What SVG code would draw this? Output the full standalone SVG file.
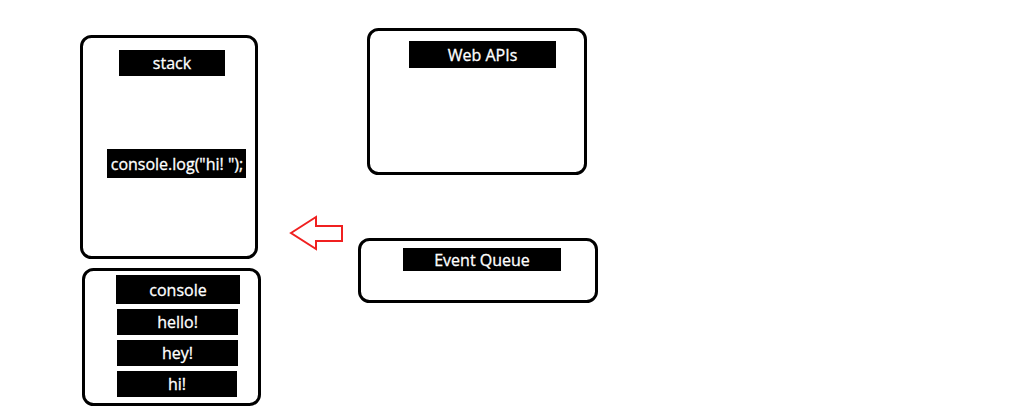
<svg xmlns="http://www.w3.org/2000/svg" width="1024" height="406" viewBox="0 0 1024 406">
<style>
.box{fill:#fff;stroke:#000;stroke-width:3}
.lbl{fill:#000}
.t{fill:#fff;font-family:"Open Sans","Noto Sans",sans-serif;font-size:16px;text-anchor:middle;stroke:#fff;stroke-width:0.3}
</style>
<rect width="1024" height="406" fill="#fff"/>
<g id="stack">
<rect class="box" x="81.5" y="36.5" width="175" height="221" rx="10"/>
<rect class="lbl" x="119" y="50" width="106" height="26"/>
<text class="t" x="172" y="68.5">stack</text>
<rect class="lbl" x="107" y="149" width="139" height="29"/>
<text class="t" x="177" y="169.5">console.log("hi! ");</text>
</g>
<g id="console">
<rect class="box" x="83.5" y="269.5" width="176" height="135" rx="10"/>
<rect class="lbl" x="116" y="275" width="124" height="29"/>
<text class="t" x="178" y="295.5">console</text>
<rect class="lbl" x="117" y="309" width="121" height="26"/>
<text class="t" x="177.5" y="328">hello!</text>
<rect class="lbl" x="117" y="340" width="121" height="26"/>
<text class="t" x="177.5" y="359">hey!</text>
<rect class="lbl" x="117" y="371" width="120" height="26"/>
<text class="t" x="177" y="390">hi!</text>
</g>
<g id="webapis">
<rect class="box" x="368.5" y="29.5" width="217" height="144" rx="10"/>
<rect class="lbl" x="409" y="41" width="147" height="27"/>
<text class="t" x="482.5" y="60.5">Web APIs</text>
</g>
<g id="eventqueue">
<rect class="box" x="359.5" y="239.5" width="237" height="62" rx="10"/>
<rect class="lbl" x="403" y="248" width="158" height="23"/>
<text class="t" x="482" y="265.5">Event Queue</text>
</g>
<g id="connectors">
<polygon points="291,233 316,217 316,226 342,226 342,241 316,241 316,249" fill="none" stroke="#f02020" stroke-width="2"/>
</g>
</svg>
